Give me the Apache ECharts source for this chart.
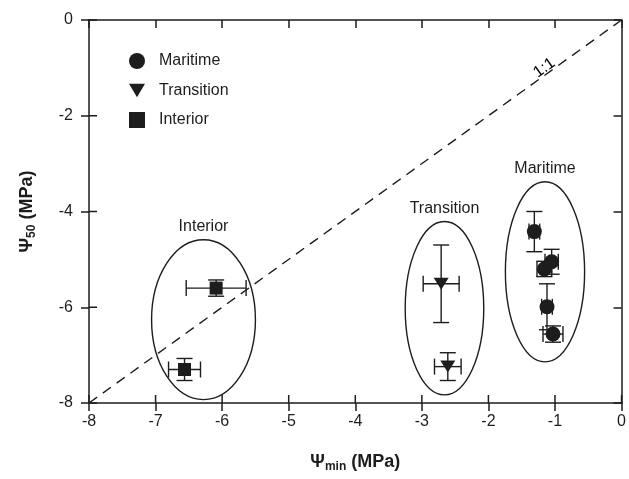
<!DOCTYPE html>
<html>
<head>
<meta charset="utf-8">
<script src="https://cdn.jsdelivr.net/npm/echarts@6/dist/echarts.min.js"></script>
<style>
  html, body { margin: 0; padding: 0; background: #fff; }
  #chart { width: 629px; height: 479px; }
</style>
</head>
<body>
<div id="chart"></div>
<script>
// values (MPa)
const xTicks = [-8, -7, -6, -5, -4, -3, -2, -1, 0]
const yTicks = [0, -2, -4, -6, -8]

const maritimeX = [-1.31, -1.05, -1.16, -1.12, -1.03]
const maritimeY = [-4.42, -5.05, -5.20, -5.99, -6.56]
const maritimeXErr = [0.08, 0.10, 0.11, 0.08, 0.15]
const maritimeYErr = [0.42, 0.26, 0.16, 0.48, 0.17]

const transitionX = [-2.71, -2.61]
const transitionY = [-5.51, -7.24]
const transitionXErr = [0.27, 0.20]
const transitionYErr = [0.81, 0.29]

const interiorX = [-6.09, -6.565]
const interiorY = [-5.60, -7.30]
const interiorXErr = [0.45, 0.24]
const interiorYErr = [0.17, 0.23]

// group ellipses: centre and half-axes in data units
const groupNames = ['Interior', 'Transition', 'Maritime']
const groupCx = [-6.28, -2.66, -1.15]
const groupCy = [-6.26, -6.02, -5.26]
const groupRx = [0.78, 0.59, 0.595]
const groupRy = [1.67, 1.81, 1.88]

const oneToOne = [[-8, -8], [0, 0]]
const oneToOneLabel = [-1.16, -1.0]

const ink = '#1d1d1d'
const font = 'Liberation Sans, Arial, sans-serif'

const pts = (xs, ys) => xs.map((x, i) => [x, ys[i]])
const errRows = (xs, ys, ex, ey) => xs.map((x, i) => [x, ys[i], ex[i], ey[i]])

const allErr = [].concat(
  errRows(maritimeX, maritimeY, maritimeXErr, maritimeYErr),
  errRows(transitionX, transitionY, transitionXErr, transitionYErr),
  errRows(interiorX, interiorY, interiorXErr, interiorYErr)
)
const ellipseRows = groupNames.map((n, i) => [groupCx[i], groupCy[i], groupRx[i], groupRy[i], n])

const cap = 8
const tickLen = 8
const ln = (x1, y1, x2, y2, w) => ({ type: 'line', shape: { x1, y1, x2, y2 }, style: { stroke: ink, lineWidth: w || 1.4 } })

const renderErr = (params, api) => {
  const x = api.value(0), y = api.value(1), ex = api.value(2), ey = api.value(3)
  const l = api.coord([x - ex, y]), r = api.coord([x + ex, y])
  const t = api.coord([x, y + ey]), b = api.coord([x, y - ey])
  return {
    type: 'group',
    children: [
      ln(l[0], l[1], r[0], r[1]),
      ln(l[0], l[1] - cap, l[0], l[1] + cap),
      ln(r[0], r[1] - cap, r[0], r[1] + cap),
      ln(t[0], t[1], b[0], b[1]),
      ln(t[0] - cap, t[1], t[0] + cap, t[1]),
      ln(b[0] - cap, b[1], b[0] + cap, b[1]),
    ],
  }
}

const renderEllipse = (params, api) => {
  const c = api.coord([api.value(0), api.value(1)])
  const s = api.size([api.value(2), api.value(3)])
  return {
    type: 'group',
    children: [
      {
        type: 'ellipse',
        shape: { cx: c[0], cy: c[1], rx: s[0], ry: s[1] },
        style: { fill: 'none', stroke: ink, lineWidth: 1.4 },
      },
      {
        type: 'text',
        x: c[0],
        y: c[1] - s[1] - 5,
        style: {
          text: api.value(4),
          fill: ink,
          font: '16px ' + font,
          textAlign: 'center',
          textVerticalAlign: 'bottom',
        },
      },
    ],
  }
}

// inner half of the crossing ticks on the bottom and left axes
const innerTickRows = xTicks.map(v => [0, v]).concat(yTicks.map(v => [1, v]))
const renderInnerTick = (params, api) => {
  const kind = api.value(0), v = api.value(1)
  if (kind === 0) {
    const p = api.coord([v, -8])
    return ln(p[0], p[1], p[0], p[1] - tickLen, 1.5)
  }
  const p = api.coord([-8, v])
  return ln(p[0], p[1], p[0] + tickLen, p[1], 1.5)
}

const downTri = 'path://M0,0 L14,0 L7,12 Z'

const axisLine = { show: true, onZero: false, lineStyle: { color: ink, width: 1.5 } }
const tickStyle = { color: ink, width: 1.5 }
const baseX = { type: 'value', min: -8, max: 0, interval: 1, splitLine: { show: false } }
const baseY = { type: 'value', min: -8, max: 0, interval: 2, splitLine: { show: false } }
const subRich = {
  p: { fontSize: 18, fontWeight: 'bold', color: ink, fontFamily: font },
  s: { fontSize: 12, fontWeight: 'bold', color: ink, fontFamily: font, padding: [10, 0, 0, 0] },
}

const chart = echarts.init(document.getElementById('chart'))
chart.setOption({
  animation: false,
  backgroundColor: '#fff',
  grid: { left: 89, right: 5, top: 20, bottom: 76 },
  legend: {
    orient: 'vertical',
    left: 124,
    top: 48,
    itemWidth: 16,
    itemHeight: 16,
    itemGap: 13.5,
    data: ['Maritime', 'Transition', 'Interior'],
    textStyle: { fontSize: 16, color: ink, fontFamily: font, padding: [0, 0, 0, 9] },
  },
  xAxis: [
    Object.assign({}, baseX, {
      position: 'bottom',
      axisLine,
      axisTick: { show: true, length: tickLen, lineStyle: tickStyle },
      axisLabel: { fontSize: 16, color: ink, fontFamily: font, margin: 11 },
      name: '{p|Ψ}{s|min}{p| (MPa)}',
      nameLocation: 'middle',
      nameGap: 48,
      nameTextStyle: { rich: subRich },
    }),
    Object.assign({}, baseX, {
      position: 'top',
      axisLine,
      axisTick: { show: true, inside: true, length: tickLen, lineStyle: tickStyle },
      axisLabel: { show: false },
    }),
  ],
  yAxis: [
    Object.assign({}, baseY, {
      position: 'left',
      axisLine,
      axisTick: { show: true, length: tickLen, lineStyle: tickStyle },
      axisLabel: { fontSize: 16, color: ink, fontFamily: font, margin: 16 },
      name: '{p|Ψ}{s|50}{p| (MPa)}',
      nameLocation: 'middle',
      nameGap: 51,
      nameRotate: 90,
      nameTextStyle: { rich: subRich },
    }),
    Object.assign({}, baseY, {
      position: 'right',
      axisLine,
      axisTick: { show: true, inside: true, length: tickLen, lineStyle: tickStyle },
      axisLabel: { show: false },
    }),
  ],
  series: [
    {
      type: 'custom',
      data: innerTickRows,
      renderItem: renderInnerTick,
      silent: true,
      z: 1,
    },
    {
      type: 'line',
      data: oneToOne,
      symbol: 'none',
      silent: true,
      lineStyle: { color: ink, width: 1.4, type: [10, 7] },
    },
    {
      type: 'scatter',
      data: [oneToOneLabel],
      symbolSize: 0,
      silent: true,
      itemStyle: { opacity: 1 },
      label: {
        show: true,
        formatter: '1:1',
        position: 'inside',
        rotate: 35.5,
        fontSize: 16,
        color: '#000',
        fontFamily: font,
      },
    },
    {
      type: 'custom',
      data: ellipseRows,
      renderItem: renderEllipse,
      silent: true,
      z: 1,
    },
    {
      type: 'custom',
      data: allErr,
      renderItem: renderErr,
      silent: true,
      z: 2,
    },
    {
      name: 'Maritime',
      type: 'scatter',
      data: pts(maritimeX, maritimeY),
      symbol: 'circle',
      symbolSize: 15,
      itemStyle: { color: ink, opacity: 1 },
      z: 3,
    },
    {
      name: 'Transition',
      type: 'scatter',
      data: pts(transitionX, transitionY),
      symbol: downTri,
      symbolSize: [15, 12],
      itemStyle: { color: ink, opacity: 1 },
      z: 3,
    },
    {
      name: 'Interior',
      type: 'scatter',
      data: pts(interiorX, interiorY),
      symbol: 'rect',
      symbolSize: 13,
      itemStyle: { color: ink, opacity: 1 },
      z: 3,
    },
  ],
})
</script>
</body>
</html>
